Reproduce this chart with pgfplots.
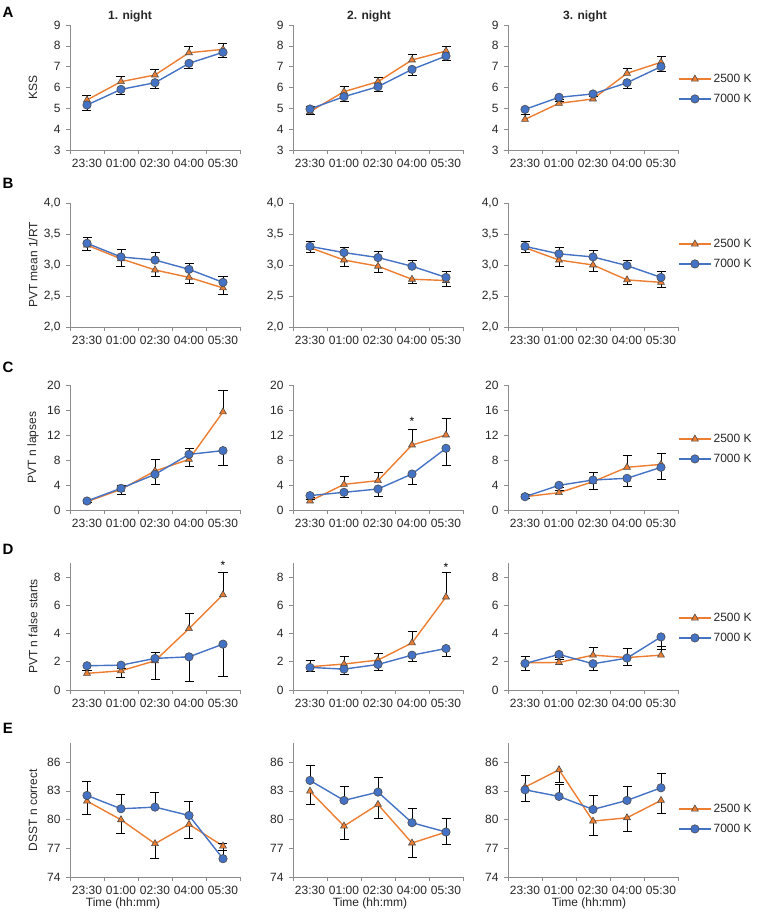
\documentclass[border=0pt]{standalone}
\usepackage{fontspec}
\setmainfont{Liberation Sans}
\usepackage{pgfplots}
\usepackage{pgfplotstable}
\pgfplotsset{compat=1.18}

\definecolor{cOr}{HTML}{ED7D31}
\definecolor{cBl}{HTML}{4472C4}
\definecolor{axgray}{HTML}{8C8C8C}
\newcommand{\fs}{\fontsize{12}{14}\selectfont}

% x  2500K  err  7000K  err
\pgfplotstableread{
x o oe b be
0 5.40 0.22 5.16 0.26
1 6.28 0.24 5.91 0.24
2 6.60 0.27 6.23 0.27
3 7.67 0.29 7.16 0.24
4 7.83 0.29 7.69 0.24
}\tAa
\pgfplotstableread{
x o oe b be
0 4.84 0.27 4.97 0.26
1 5.80 0.27 5.56 0.24
2 6.28 0.21 6.04 0.24
3 7.32 0.27 6.87 0.27
4 7.75 0.24 7.51 0.22
}\tAb
\pgfplotstableread{
x o oe b be
0 4.47 0.24 4.95 0.24
1 5.24 0.10 5.53 0.10
2 5.45 0.10 5.69 0.10
3 6.68 0.24 6.23 0.27
4 7.21 0.30 7.00 0.24
}\tAc
\pgfplotstableread{
x o oe b be
0 3.32 0.08 3.35 0.09
1 3.10 0.12 3.13 0.12
2 2.92 0.10 3.08 0.12
3 2.80 0.10 2.93 0.10
4 2.63 0.10 2.72 0.10
}\tBa
\pgfplotstableread{
x o oe b be
0 3.28 0.08 3.30 0.08
1 3.08 0.10 3.20 0.08
2 2.98 0.10 3.12 0.10
3 2.77 0.07 2.98 0.10
4 2.75 0.10 2.80 0.10
}\tBb
\pgfplotstableread{
x o oe b be
0 3.28 0.08 3.30 0.08
1 3.08 0.10 3.18 0.10
2 3.00 0.10 3.13 0.11
3 2.76 0.08 2.99 0.09
4 2.72 0.08 2.80 0.10
}\tBc
\pgfplotstableread{
x o oe b be
0 1.33 0.30 1.44 0.30
1 3.30 0.70 3.47 0.97
2 6.24 1.86 5.70 1.60
3 8.10 1.80 8.90 1.86
4 15.70 3.50 9.50 2.30
}\tCa
\pgfplotstableread{
x o oe b be
0 1.44 0.30 2.30 0.30
1 4.10 1.23 2.83 0.80
2 4.70 1.30 3.36 1.12
3 10.40 2.50 5.76 1.66
4 12.00 2.70 9.87 2.67
}\tCb
\pgfplotstableread{
x o oe b be
0 2.13 0.30 2.13 0.30
1 2.77 0.40 3.95 0.40
2 4.53 1.47 4.80 1.44
3 6.83 1.87 5.07 1.23
4 7.30 1.77 6.83 1.87
}\tCc
\pgfplotstableread{
x o oe b be
0 1.18 0.23 1.72 0.30
1 1.36 0.20 1.76 0.89
2 2.07 0.57 2.24 1.46
3 4.35 1.11 2.35 1.76
4 6.75 1.60 3.25 2.26
}\tDa
\pgfplotstableread{
x o oe b be
0 1.65 0.42 1.60 0.31
1 1.84 0.56 1.48 0.38
2 2.12 0.47 1.81 0.45
3 3.34 0.82 2.47 0.47
4 6.59 1.71 2.94 0.59
}\tDb
\pgfplotstableread{
x o oe b be
0 1.93 0.42 1.88 0.47
1 1.95 0.20 2.52 0.20
2 2.47 0.53 1.86 0.45
3 2.30 0.64 2.26 0.50
4 2.47 0.63 3.76 0.89
}\tDc
\pgfplotstableread{
x o oe b be
0 81.93 1.39 82.52 1.50
1 79.98 1.46 81.13 1.46
2 77.48 1.50 81.30 1.50
3 79.50 1.50 80.43 1.50
4 77.23 0.40 75.91 1.55
}\tEa
\pgfplotstableread{
x o oe b be
0 82.97 1.42 84.09 1.56
1 79.32 1.39 82.00 1.50
2 81.58 1.42 82.87 1.50
3 77.55 1.46 79.67 1.46
4 78.70 1.30 78.70 1.46
}\tEb
\pgfplotstableread{
x o oe b be
0 83.39 1.49 83.11 1.50
1 85.20 1.36 82.42 1.25
2 79.84 1.53 81.06 1.43
3 80.19 1.39 82.00 1.46
4 82.00 1.40 83.32 1.53
}\tEc

\pgfplotsset{
  base/.style={
    scale only axis, width=170pt, anchor=south west, clip=false,
    xmin=-0.5, xmax=4.5,
    xtick={-0.5,0.5,...,4.5}, xticklabels={},
    extra x ticks={0,1,2,3,4},
    extra x tick labels={23:30,01:00,02:30,04:00,05:30},
    extra x tick style={major tick length=0pt},
    axis x line*=bottom, axis y line*=left,
    axis line style={draw=axgray, line width=0.6pt, -},
    tick style={draw=axgray, line width=0.6pt},
    major tick length=4pt, tick align=outside,
    /pgf/number format/assume math mode=true,
    tick label style={font=\fs, text=black!85},
    xticklabel style={yshift=-6pt},
    yticklabel style={xshift=-2pt},
    every axis y label/.style={at={(axis description cs:0,0.5)}, xshift=-37pt,
      rotate=90, anchor=center, font=\fs, text=black!85},
    legend style={draw=none, fill=none, at={(axis description cs:1,0)}, anchor=west,
      font=\fs, text=black!85, row sep=6pt, inner sep=0pt},
    legend cell align=left,
    legend image code/.code={\draw[mark repeat=2,mark phase=2,#1]
      plot coordinates {(0pt,0pt)(16pt,0pt)(32pt,0pt)};},
  },
  oline/.style={color=cOr, line width=1.4pt, mark=triangle*, mark size=4pt,
    mark options={fill=cOr, draw=black!70, line width=0.6pt}},
  bline/.style={color=cBl, line width=1.4pt, mark=*, mark size=4.2pt,
    mark options={fill=cBl, draw=black!70, line width=0.6pt}},
  ebar/.style={error bars/y explicit,
    error bars/error bar style={black, line width=0.8pt},
    error bars/error mark options={rotate=90, mark size=4.5pt, black, line width=0.8pt}},
  rowA/.style={height=125pt, ymin=3, ymax=9, ytick={3,...,9},
    legend style={yshift=61pt}},
  rowB/.style={height=124pt, ymin=2, ymax=4, ytick={2,2.5,...,4},
    yticklabel style={/pgf/number format/fixed, /pgf/number format/fixed zerofill,
      /pgf/number format/precision=1, /pgf/number format/use comma},
    legend style={yshift=73pt}},
  rowC/.style={height=125pt, ymin=0, ymax=20, ytick={0,4,...,20},
    legend style={yshift=61pt}},
  rowD/.style={height=127pt, ymin=0, ymax=9, ytick={0,2,...,8},
    legend style={yshift=62pt}},
  rowE/.style={height=134pt, ymin=74, ymax=88, ytick={74,77,...,86},
    legend style={yshift=58pt}},
}

\newcommand{\leg}{%
\addlegendimage{oline}\addlegendentry{2500 K}
\addlegendimage{bline}\addlegendentry{7000 K}}

% #1 left, #2 bottom, #3 table, #4 options, #5/#6 error direction, #7 extras
\newcommand{\panel}[7]{%
\begin{axis}[base, at={(#1pt,#2pt)}, #4]
\addplot[oline, ebar, error bars/y dir=#5, forget plot] table[x=x, y=o, y error=oe] {#3};
\addplot[bline, ebar, error bars/y dir=#6, forget plot] table[x=x, y=b, y error=be] {#3};
#7
\end{axis}}

\begin{document}
\begin{tikzpicture}
\useasboundingbox (0pt,0pt) rectangle (758pt,914pt);

\panel{70}{764}{\tAa}{rowA, ylabel={KSS}}{plus}{minus}{}
\panel{293}{764}{\tAb}{rowA}{plus}{minus}{}
\panel{508}{764}{\tAc}{rowA}{plus}{minus}{\leg}

\panel{70}{587}{\tBa}{rowB, ylabel={PVT mean 1/RT}}{minus}{plus}{}
\panel{293}{587}{\tBb}{rowB}{minus}{plus}{}
\panel{508}{587}{\tBc}{rowB}{minus}{plus}{\leg}

\panel{70}{404}{\tCa}{rowC, ylabel={PVT n lapses}}{plus}{minus}{}
\panel{293}{404}{\tCb}{rowC}{plus}{minus}{\node[font=\fs] at (axis cs:3,14.2) {*};}
\panel{508}{404}{\tCc}{rowC}{plus}{minus}{\leg}

\panel{70}{224}{\tDa}{rowD, ylabel={PVT n false starts}}{plus}{minus}{\node[font=\fs] at (axis cs:4,8.8) {*};}
\panel{293}{224}{\tDb}{rowD}{plus}{minus}{\node[font=\fs] at (axis cs:4,8.7) {*};}
\panel{508}{224}{\tDc}{rowD}{plus}{minus}{\leg}

\panel{70}{37}{\tEa}{rowE, ylabel={DSST n correct}}{minus}{plus}{}
\panel{293}{37}{\tEb}{rowE}{minus}{plus}{}
\panel{508}{37}{\tEc}{rowE}{minus}{plus}{\leg}

% column titles, axis titles and panel letters
\node[font=\fs\bfseries, text=black!85] at (130pt,898pt) {1. night};
\node[font=\fs\bfseries, text=black!85] at (369pt,898pt) {2. night};
\node[font=\fs\bfseries, text=black!85] at (585pt,898pt) {3. night};
\foreach \cx in {123,370,589}
  \node[font=\fs, text=black!85] at (\cx pt,11pt) {Time (hh:mm)};
\foreach \ly/\lt in {902/A,731/B,547/C,365/D,186/E}
  \node[font=\fontsize{15}{17}\selectfont\bfseries] at (8pt,\ly pt) {\lt};
\end{tikzpicture}
\end{document}
